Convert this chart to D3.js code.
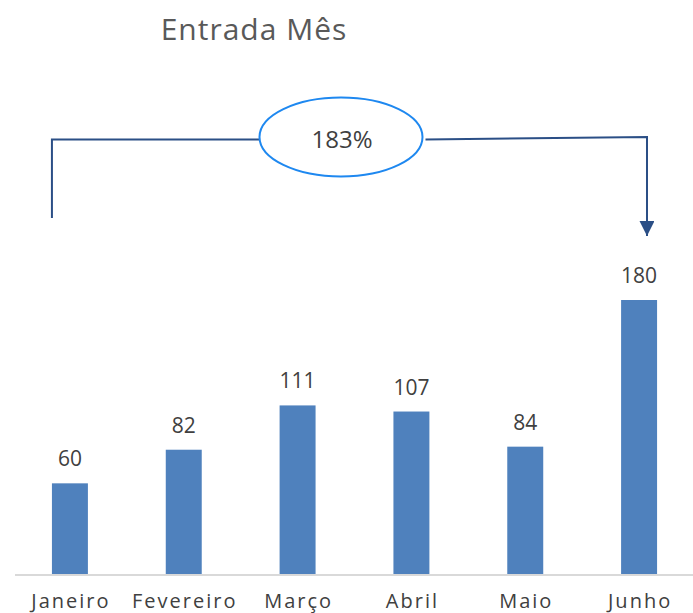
<!DOCTYPE html>
<html>
<head>
<meta charset="utf-8">
<script src="https://cdn.jsdelivr.net/npm/d3@7"></script>
<style>
  body { margin: 0; background: #fff; }
  svg { display: block; }
</style>
</head>
<body>
<svg id="chart" width="693" height="613"></svg>
<script>
// dados
var months = ["Janeiro", "Fevereiro", "Março", "Abril", "Maio", "Junho"];
var values = [60, 82, 111, 107, 84, 180];
var growthLabel = "183%";

var W = 693, H = 613;
var base = 575;

var svg = d3.select("#chart");

var x = d3.scaleBand()
  .domain(months)
  .range([13, 696])
  .paddingInner(0.684)
  .paddingOuter(0.342);

var y = d3.scaleLinear()
  .domain([0, 180])
  .range([base, 300]);

// título
svg.append("text")
  .attr("x", 254).attr("y", 40)
  .attr("text-anchor", "middle")
  .attr("font-family", "'Open Sans', sans-serif")
  .attr("font-size", 30)
  .attr("letter-spacing", 1)
  .attr("fill", "#595959")
  .text("Entrada Mês");

// barras
svg.selectAll("rect.bar")
  .data(values)
  .enter().append("rect")
  .attr("class", "bar")
  .attr("x", (d, i) => x(months[i]))
  .attr("width", x.bandwidth())
  .attr("y", d => y(d))
  .attr("height", d => base - y(d))
  .attr("fill", "#4F81BD");

// rótulos de valor
svg.selectAll("text.val")
  .data(values)
  .enter().append("text")
  .attr("class", "val")
  .attr("x", (d, i) => x(months[i]) + x.bandwidth() / 2)
  .attr("y", d => y(d) - 17)
  .attr("text-anchor", "middle")
  .attr("font-family", "'Open Sans', sans-serif")
  .attr("font-size", 21)
  .attr("fill", "#404040")
  .text(d => d);

// eixo x
var xAxis = svg.append("g")
  .attr("transform", "translate(0," + base + ")")
  .call(d3.axisBottom(x).tickSize(0).tickPadding(19));
xAxis.select(".domain").remove();
xAxis.selectAll("text")
  .attr("font-family", "'Open Sans', sans-serif")
  .attr("font-size", 20)
  .attr("letter-spacing", 2)
  .attr("dx", 1)
  .attr("fill", "#404040");

svg.append("line")
  .attr("x1", 15).attr("x2", W)
  .attr("y1", base).attr("y2", base)
  .attr("stroke", "#d9d9d9")
  .attr("stroke-width", 2);

// anotação de crescimento
var lineColor = "#2B4F86";
var x0 = x(months[0]);
var x1 = x(months[months.length - 1]) + x.bandwidth() * 0.72;
var cx = 341, cy = 137, rx = 81.5, ry = 39.5;

svg.append("defs").append("marker")
  .attr("id", "arrow")
  .attr("viewBox", "0 0 10 10")
  .attr("refX", 10).attr("refY", 5)
  .attr("markerWidth", 7.5).attr("markerHeight", 7.5)
  .attr("markerUnits", "strokeWidth")
  .attr("orient", "auto")
  .append("path")
  .attr("d", "M0,0L10,5L0,10Z")
  .attr("fill", lineColor);

svg.append("path")
  .attr("d", "M" + x0 + ",218V139.5H" + (cx - rx))
  .attr("fill", "none")
  .attr("stroke", lineColor)
  .attr("stroke-width", 2);

svg.append("path")
  .attr("d", "M" + (cx + rx + 3) + ",139.5L" + x1 + ",137V236")
  .attr("fill", "none")
  .attr("stroke", lineColor)
  .attr("stroke-width", 2)
  .attr("marker-end", "url(#arrow)");

svg.append("ellipse")
  .attr("cx", cx).attr("cy", cy)
  .attr("rx", rx).attr("ry", ry)
  .attr("fill", "#fff")
  .attr("stroke", "#1E88F0")
  .attr("stroke-width", 2);

svg.append("text")
  .attr("x", cx + 1).attr("y", 148)
  .attr("text-anchor", "middle")
  .attr("font-family", "'Open Sans', sans-serif")
  .attr("font-size", 24)
  .attr("fill", "#404040")
  .text(growthLabel);
</script>
</body>
</html>
